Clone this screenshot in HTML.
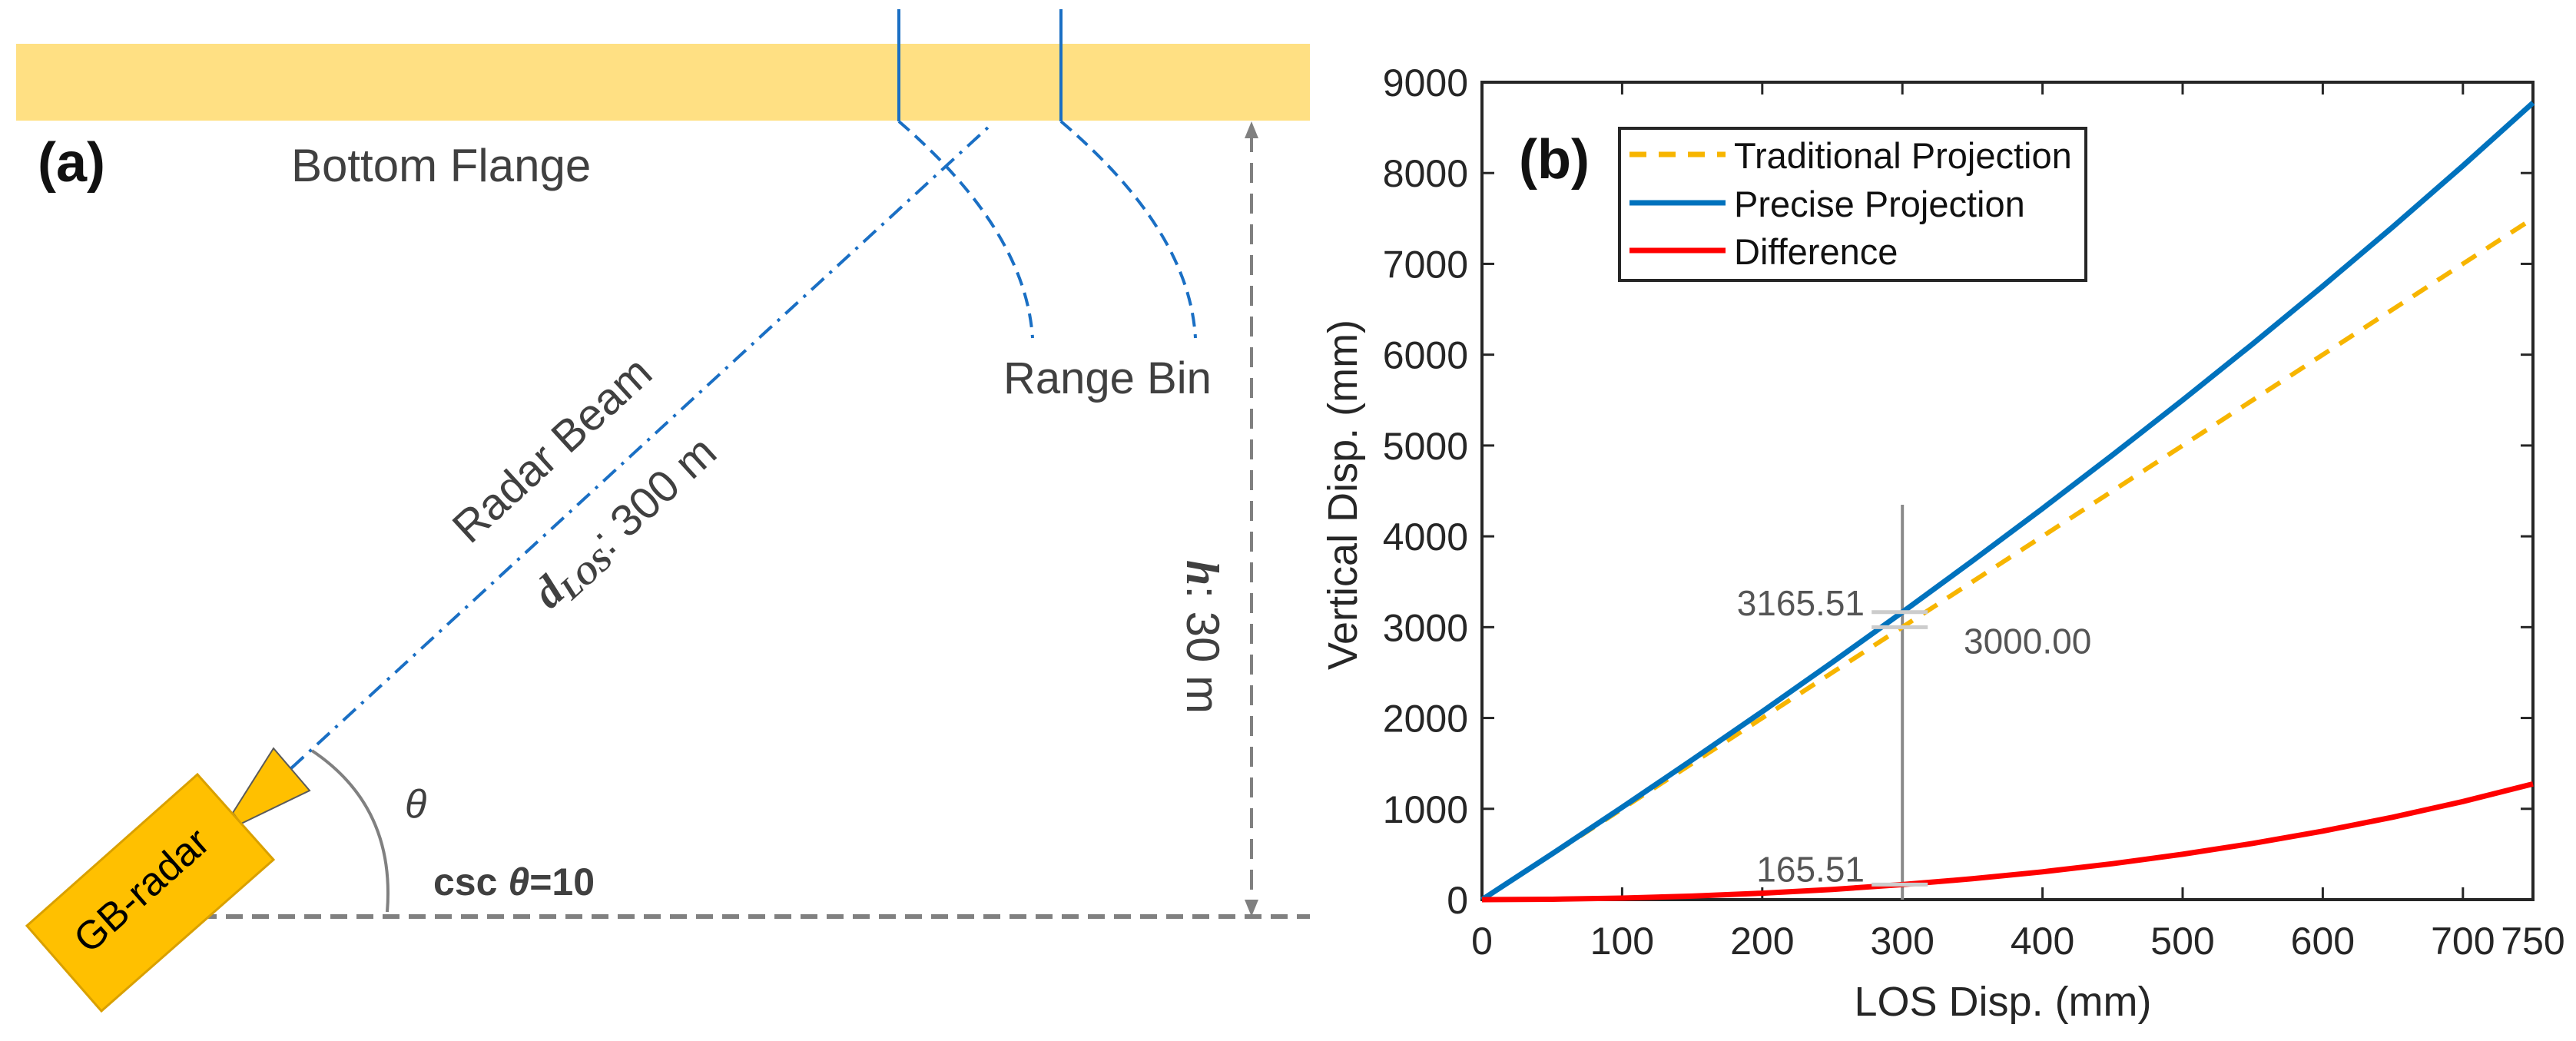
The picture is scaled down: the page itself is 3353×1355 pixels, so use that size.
<!DOCTYPE html>
<html><head><meta charset="utf-8">
<style>
html,body{margin:0;padding:0;background:#fff;}
svg{display:block;}
text{font-family:"Liberation Sans",sans-serif;}
</style></head>
<body>
<svg id="fig" width="3353" height="1355" viewBox="0 0 3353 1355" xmlns="http://www.w3.org/2000/svg">
  <g>
    <rect x="21" y="57" width="1684" height="100" fill="#FFE083"/>
    <text x="49" y="236" font-size="72" font-weight="bold" fill="#111">(a)</text>
    <text x="379" y="236" font-size="60" fill="#404040">Bottom Flange</text>
    <line x1="1170" y1="12" x2="1170" y2="158" stroke="#1a6fc4" stroke-width="4"/>
    <line x1="1381" y1="12" x2="1381" y2="158" stroke="#1a6fc4" stroke-width="4"/>
    <path d="M1170 158 Q1335 300 1344 440" fill="none" stroke="#1a6fc4" stroke-width="4" stroke-dasharray="18 10"/>
    <path d="M1381 158 Q1548 300 1556 440" fill="none" stroke="#1a6fc4" stroke-width="4" stroke-dasharray="18 10"/>
    <text x="1306" y="512" font-size="58" fill="#404040">Range Bin</text>
    <line x1="379" y1="1000" x2="1287" y2="165" stroke="#1a6fc4" stroke-width="4" stroke-dasharray="22 10 4 10"/>
    <text transform="translate(732,600) rotate(-42.4)" text-anchor="middle" font-size="58" fill="#404040">Radar Beam</text>
    <text transform="translate(826,694) rotate(-42.4)" text-anchor="middle" font-size="58" fill="#404040"><tspan font-family="Liberation Serif,serif" font-style="italic" font-weight="bold">d</tspan><tspan font-family="Liberation Serif,serif" font-style="italic" font-weight="bold" font-size="40" dy="10">LOS</tspan><tspan dy="-10">: 300 m</tspan></text>
    <line x1="1629" y1="172" x2="1629" y2="1178" stroke="#808080" stroke-width="4" stroke-dasharray="26 14"/>
    <polygon points="1629,158 1620,180 1638,180" fill="#808080"/>
    <polygon points="1629,1193 1620,1171 1638,1171" fill="#808080"/>
    <line x1="260" y1="1193" x2="1705" y2="1193" stroke="#808080" stroke-width="6" stroke-dasharray="22 12"/>
    <text transform="translate(1545,829) rotate(90)" text-anchor="middle" font-size="60" fill="#404040"><tspan font-family="Liberation Serif,serif" font-style="italic" font-weight="bold">h</tspan>: 30 m</text>
    <path d="M406 977 Q515 1050 504 1187" fill="none" stroke="#808080" stroke-width="4"/>
    <text x="527" y="1064" font-size="52" font-family="Liberation Serif,serif" font-style="italic" fill="#404040">θ</text>
    <text x="564" y="1165" font-size="50" font-family="Liberation Serif,serif" font-weight="bold" fill="#404040">csc <tspan font-style="italic">θ</tspan>=10</text>
    <polygon points="303,1058 356,974 403,1029 314,1072" fill="#FFC000" stroke="#5a5a5a" stroke-width="2"/>
    <polygon points="257,1008 356,1119 132,1316 35,1205" fill="#FFC000" stroke="#D9A000" stroke-width="3"/>
    <text transform="translate(196,1172) rotate(-41.6)" text-anchor="middle" font-size="52" fill="#000">GB-radar</text>
  </g>
  <g id="chart"></g>
</svg>
<script>
const xValues = [0,50,100,150,200,250,300,350,400,450,500,550,600,650,700,750];
const traditional = [0,500,1000,1500,2000,2500,3000,3500,4000,4500,5000,5500,6000,6500,7000,7500];
const precise = [0,504.2,1017.1,1539.1,2070.8,2612.7,3165.5,3729.8,4306.4,4896.2,5500.0,6119.0,6754.4,7407.5,8079.9,8773.5];
const difference = [0,4.2,17.1,39.1,70.8,112.7,165.5,229.8,306.4,396.2,500.0,619.0,754.4,907.5,1079.9,1273.5];
const xTicks = [0,100,200,300,400,500,600,700,750];
const yTicks = [0,1000,2000,3000,4000,5000,6000,7000,8000,9000];
const annotX = 300;
const annotPrecise = 3165.51;
const annotTraditional = 3000.00;
const annotDiff = 165.51;

const NS = "http://www.w3.org/2000/svg";
const L = 1929, R = 3297, T = 107, B = 1171;
const xMin = 0, xMax = 750, yMin = 0, yMax = 9000;
function sx(v){ return L + (v - xMin) / (xMax - xMin) * (R - L); }
function sy(v){ return B - (v - yMin) / (yMax - yMin) * (B - T); }
const g = document.getElementById('chart');
function mk(tag, attrs, parent){
  const e = document.createElementNS(NS, tag);
  for (const k in attrs) e.setAttribute(k, attrs[k]);
  (parent || g).appendChild(e);
  return e;
}

let frame = mk('rect', {x:L, y:T, width:R-L, height:B-T, fill:'none', stroke:'#262626', 'stroke-width':4});



xTicks.forEach(function(t){
  const x = sx(t);
  let a = mk('line', {x1:x, y1:B, x2:x, y2:B-16, stroke:'#262626', 'stroke-width':3});
  
  
  let b = mk('line', {x1:x, y1:T, x2:x, y2:T+16, stroke:'#262626', 'stroke-width':3});
  
  
  let lbl = mk('text', {x:x, y:1242, 'text-anchor':'middle', 'font-size':50, fill:'#262626'});
  lbl.textContent = String(t);
  
  
});
yTicks.forEach(function(t){
  const y = sy(t);
  let a = mk('line', {x1:L, y1:y, x2:L+16, y2:y, stroke:'#262626', 'stroke-width':3});
  
  
  let b = mk('line', {x1:R, y1:y, x2:R-16, y2:y, stroke:'#262626', 'stroke-width':3});
  
  
  let lbl = mk('text', {x:1911, y:y+18, 'text-anchor':'end', 'font-size':50, fill:'#262626'});
  lbl.textContent = String(t);
  
  
});

let xt = mk('text', {x:2607, y:1322, 'text-anchor':'middle', 'font-size':54, fill:'#262626'});
xt.textContent = 'LOS Disp. (mm)';


let yt = mk('text', {transform:'translate(1766,644) rotate(-90)', 'text-anchor':'middle', 'font-size':54, fill:'#262626'});
yt.textContent = 'Vertical Disp. (mm)';



function pathFor(vals){
  return vals.map(function(v,i){ return (i?'L':'M') + sx(xValues[i]).toFixed(1) + ' ' + sy(v).toFixed(1); }).join(' ');
}

let av = mk('line', {x1:sx(annotX), y1:657, x2:sx(annotX), y2:B, stroke:'#8a8a8a', 'stroke-width':4});



let pTrad = mk('path', {d:pathFor(traditional), fill:'none', stroke:'#F7B500', 'stroke-width':6, 'stroke-dasharray':'22 16'});


let pPrec = mk('path', {d:pathFor(precise), fill:'none', stroke:'#0072BD', 'stroke-width':7});


let pDiff = mk('path', {d:pathFor(difference), fill:'none', stroke:'#FF0000', 'stroke-width':7});



[annotPrecise, annotTraditional, annotDiff].forEach(function(v){
  let m = mk('line', {x1:sx(annotX)-40, y1:sy(v), x2:sx(annotX)+33, y2:sy(v), stroke:'#cccccc', 'stroke-width':5});
  
  
});
let a1 = mk('text', {x:2427, y:sy(annotPrecise)+4, 'text-anchor':'end', 'font-size':46, fill:'#555'});
a1.textContent = annotPrecise.toFixed(2);


let a2 = mk('text', {x:2556, y:sy(annotTraditional)+34, 'text-anchor':'start', 'font-size':46, fill:'#555'});
a2.textContent = annotTraditional.toFixed(2);


let a3 = mk('text', {x:2427, y:sy(annotDiff)-4, 'text-anchor':'end', 'font-size':46, fill:'#555'});
a3.textContent = annotDiff.toFixed(2);



let pb = mk('text', {x:1977, y:232, 'font-size':72, 'font-weight':'bold', fill:'#111'});
pb.textContent = '(b)';



let lg = mk('g', {});


let lb = mk('rect', {x:2108, y:167, width:607, height:198, fill:'#fff', stroke:'#262626', 'stroke-width':4}, lg);


const legendNames = ['Traditional Projection','Precise Projection','Difference'];
const legendColors = ['#F7B500','#0072BD','#FF0000'];
const legendDash = ['22 16','none','none'];
const legendY = [201,264,326];
legendNames.forEach(function(n,i){
  let ln = mk('line', {x1:2121, y1:legendY[i], x2:2246, y2:legendY[i], stroke:legendColors[i], 'stroke-width':7, 'stroke-dasharray':legendDash[i]}, lg);
  
  
  let tx = mk('text', {x:2257, y:legendY[i]+18, 'font-size':47, fill:'#111'}, lg);
  tx.textContent = n;
  
  
});
</script>
</body></html>
